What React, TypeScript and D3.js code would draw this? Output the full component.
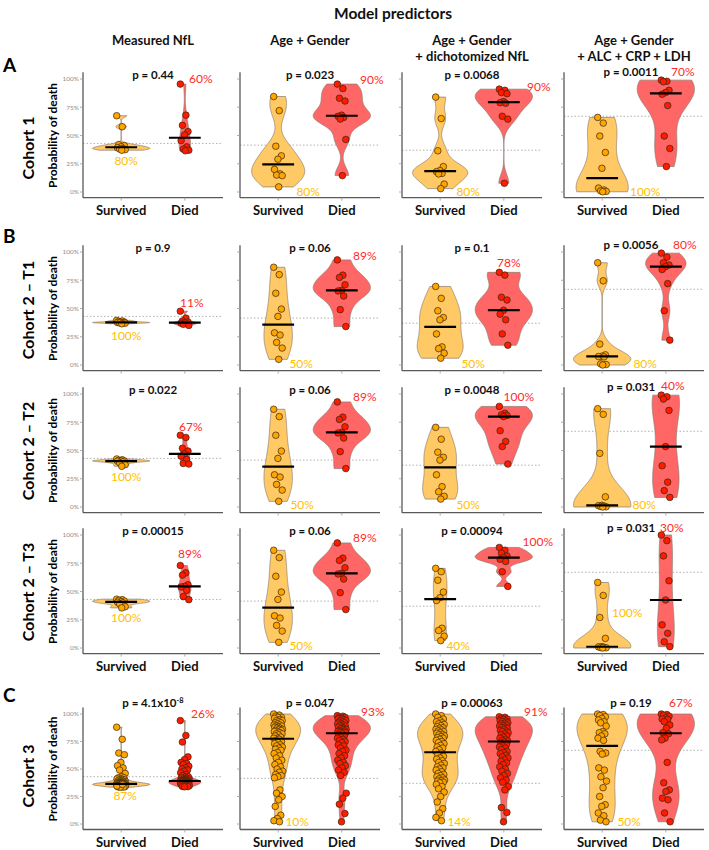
import React from "react";
import * as d3 from "d3";

// ---------- categories / labels ----------
const groups = ["Survived", "Died"];
const rowLabels = ["Cohort 1", "Cohort 2 – T1", "Cohort 2 – T2", "Cohort 2 – T3", "Cohort 3"];
const sectionLetters = ["A", "B", "", "", "C"];
const columnHeaders = [
  ["Measured NfL"],
  ["Age + Gender"],
  ["Age + Gender", "+ dichotomized NfL"],
  ["Age + Gender", "+ ALC + CRP + LDH"],
];
const yTickValues = [0, 0.25, 0.5, 0.75, 1];
const thresholds = [0.43, 0.415, 0.37, 0.67];
const pValues = [
  ["0.44", "0.023", "0.0068", "0.0011"],
  ["0.9", "0.06", "0.1", "0.0056"],
  ["0.022", "0.06", "0.0048", "0.031"],
  ["0.00015", "0.06", "0.00094", "0.031"],
  ["4.1x10^-8", "0.047", "0.00063", "0.19"],
];
const survivedPct = [
  [80, 80, 80, 100],
  [100, 50, 50, 80],
  [100, 50, 50, 80],
  [100, 50, 40, 100],
  [87, 10, 14, 50],
];
const diedPct = [
  [60, 90, 90, 70],
  [11, 89, 78, 80],
  [67, 89, 100, 40],
  [89, 89, 100, 30],
  [26, 93, 91, 67],
];

// ---------- predicted probabilities ----------
// Cohort 1
const r1c1S = [0.675, 0.578, 0.42, 0.41, 0.4, 0.392, 0.385, 0.38, 0.375, 0.37];
const r1c1D = [0.955, 0.68, 0.59, 0.535, 0.505, 0.455, 0.4, 0.38, 0.37, 0.365];
const r1c2S = [0.845, 0.72, 0.405, 0.32, 0.29, 0.2, 0.16, 0.15, 0.145, 0.045];
const r1c2D = [0.955, 0.915, 0.83, 0.805, 0.68, 0.67, 0.66, 0.645, 0.465, 0.145];
const r1c3S = [0.84, 0.65, 0.365, 0.225, 0.19, 0.18, 0.165, 0.16, 0.07, 0.03];
const r1c3D = [0.91, 0.9, 0.88, 0.87, 0.8, 0.79, 0.785, 0.67, 0.645, 0.077];
const r1c4S = [0.66, 0.61, 0.495, 0.35, 0.21, 0.035, 0.018, 0.01, 0.005, 0.002];
const r1c4D = [0.99, 0.98, 0.975, 0.9, 0.88, 0.865, 0.765, 0.495, 0.385, 0.225];
// Cohort 2 – T1
const r2c1S = [0.395, 0.39, 0.385, 0.38, 0.378, 0.376, 0.375, 0.373, 0.37, 0.365];
const r2c1D = [0.476, 0.415, 0.39, 0.38, 0.375, 0.37, 0.365, 0.36, 0.35];
const c2AgeGenderS = [0.865, 0.8, 0.635, 0.495, 0.43, 0.285, 0.265, 0.2, 0.15, 0.05];
const c2AgeGenderD = [0.93, 0.795, 0.775, 0.71, 0.66, 0.655, 0.61, 0.49, 0.34];
const r2c3S = [0.695, 0.59, 0.48, 0.42, 0.4, 0.275, 0.16, 0.145, 0.105, 0.06];
const r2c3D = [0.82, 0.795, 0.6, 0.575, 0.485, 0.45, 0.4, 0.275, 0.175];
const r2c4S = [0.905, 0.745, 0.185, 0.09, 0.078, 0.075, 0.072, 0.01, 0.004, 0.0];
const r2c4D = [0.99, 0.955, 0.905, 0.885, 0.87, 0.845, 0.72, 0.48, 0.22];
// Cohort 2 – T2
const r3c1S = [0.425, 0.418, 0.412, 0.408, 0.407, 0.405, 0.4, 0.39, 0.375, 0.36];
const r3c1D = [0.635, 0.615, 0.52, 0.495, 0.47, 0.45, 0.42, 0.385, 0.38];
const r3c3S = [0.705, 0.6, 0.485, 0.44, 0.415, 0.285, 0.18, 0.135, 0.095, 0.07];
const r3c3D = [0.89, 0.83, 0.815, 0.81, 0.8, 0.675, 0.58, 0.535, 0.38];
const r3c4S = [0.87, 0.82, 0.475, 0.09, 0.015, 0.012, 0.008, 0.005, 0.002, 0.0];
const r3c4D = [0.99, 0.975, 0.955, 0.855, 0.535, 0.365, 0.22, 0.145, 0.085];
// Cohort 2 – T3
const r4c1S = [0.432, 0.428, 0.422, 0.415, 0.41, 0.405, 0.4, 0.39, 0.365, 0.355];
const r4c1D = [0.73, 0.665, 0.645, 0.56, 0.545, 0.54, 0.51, 0.455, 0.428];
const r4c3S = [0.705, 0.675, 0.6, 0.495, 0.445, 0.42, 0.175, 0.155, 0.105, 0.065];
const r4c3D = [0.89, 0.865, 0.84, 0.815, 0.8, 0.785, 0.765, 0.675, 0.545];
const r4c4S = [0.58, 0.465, 0.27, 0.085, 0.012, 0.01, 0.006, 0.004, 0.002, 0.0];
const r4c4D = [1.0, 0.95, 0.815, 0.595, 0.425, 0.205, 0.13, 0.055, 0.012];
// Cohort 3
const r5c1S = [
  0.88, 0.77, 0.645, 0.63, 0.56, 0.53, 0.51, 0.49, 0.46,
  0.43, 0.42, 0.42, 0.41, 0.41, 0.405, 0.4, 0.4, 0.395, 0.39,
  0.39, 0.385, 0.385, 0.38, 0.38, 0.38, 0.375, 0.375, 0.375, 0.372,
  0.37, 0.37, 0.37, 0.368, 0.368, 0.366, 0.365, 0.365, 0.365, 0.364,
  0.363, 0.362, 0.362, 0.361, 0.36, 0.36, 0.36, 0.359, 0.358, 0.357,
  0.356, 0.355, 0.355, 0.354, 0.353, 0.352, 0.35, 0.35, 0.348, 0.347,
  0.346, 0.345, 0.344, 0.342, 0.34, 0.338, 0.337, 0.336, 0.335, 0.345, 0.36,
];
const r5c1D = [
  0.94, 0.805, 0.745, 0.61, 0.585, 0.56, 0.55, 0.54, 0.525, 0.51, 0.5, 0.49, 0.48, 0.465, 0.45, 0.44,
  0.43, 0.425, 0.42, 0.415, 0.41, 0.41, 0.405, 0.4, 0.4, 0.398,
  0.396, 0.395, 0.393, 0.392, 0.39, 0.39, 0.388, 0.386, 0.385, 0.384,
  0.382, 0.38, 0.38, 0.378, 0.377, 0.375, 0.374, 0.372, 0.37, 0.37,
  0.368, 0.366, 0.365, 0.363, 0.36, 0.358, 0.355, 0.352, 0.35, 0.348,
  0.345, 0.342, 0.34, 0.338,
];
const r5c2S = [
  1.0, 0.99, 0.98, 0.97, 0.97, 0.96, 0.95, 0.94, 0.94, 0.93, 0.92, 0.92, 0.91, 0.9, 0.9, 0.89, 0.89,
  0.88, 0.88, 0.87, 0.87, 0.86, 0.86, 0.85, 0.85, 0.84, 0.84, 0.83, 0.82, 0.82, 0.81, 0.8, 0.79, 0.78, 0.78,
  0.77, 0.76, 0.75, 0.74, 0.73, 0.72, 0.71, 0.7, 0.69, 0.68, 0.67, 0.65, 0.64, 0.62, 0.6,
  0.58, 0.56, 0.54, 0.52, 0.5, 0.48, 0.47, 0.45, 0.44, 0.43, 0.42, 0.31, 0.28,
  0.25, 0.22, 0.16, 0.08, 0.05, 0.03, 0.02,
];
const r5c2D = [
  0.985, 0.98, 0.97, 0.97, 0.96, 0.955, 0.95, 0.94, 0.94, 0.93, 0.925, 0.92, 0.91, 0.91, 0.9,
  0.895, 0.89, 0.88, 0.88, 0.87, 0.865, 0.86, 0.855, 0.85, 0.845, 0.84, 0.84, 0.835, 0.83, 0.83,
  0.82, 0.81, 0.8, 0.79, 0.78, 0.77, 0.76, 0.75, 0.74, 0.72, 0.71, 0.69, 0.67, 0.66, 0.64,
  0.62, 0.6, 0.58, 0.56, 0.55, 0.53, 0.51, 0.49, 0.47, 0.44, 0.28, 0.235, 0.18, 0.095, 0.02,
];
const r5c3S = [
  1.0, 0.985, 0.97, 0.955, 0.94, 0.93, 0.92, 0.91, 0.905, 0.895, 0.885, 0.875, 0.87, 0.86, 0.855,
  0.845, 0.84, 0.83, 0.825, 0.815, 0.81, 0.8, 0.795, 0.785, 0.78, 0.77, 0.76, 0.75, 0.74, 0.73,
  0.715, 0.7, 0.69, 0.675, 0.66,
  0.645, 0.63, 0.615, 0.6, 0.59, 0.575, 0.56, 0.55, 0.535, 0.52, 0.51, 0.5, 0.49, 0.475, 0.46,
  0.45, 0.44, 0.43, 0.42, 0.41, 0.4, 0.395, 0.39, 0.38, 0.375,
  0.36, 0.34, 0.32, 0.29, 0.25, 0.2, 0.14, 0.1, 0.06, 0.03,
];
const r5c3D = [
  0.975, 0.97, 0.96, 0.955, 0.95, 0.94, 0.935, 0.93, 0.92, 0.915, 0.91, 0.9, 0.895, 0.89, 0.88,
  0.875, 0.87, 0.86, 0.85, 0.845, 0.84, 0.83, 0.82, 0.81, 0.8, 0.79, 0.78, 0.77, 0.76, 0.755,
  0.745, 0.735, 0.72, 0.71, 0.7, 0.69, 0.675, 0.66, 0.65, 0.64, 0.625, 0.61, 0.6, 0.585, 0.57,
  0.555, 0.54, 0.52, 0.5, 0.48, 0.46, 0.44, 0.42, 0.4, 0.38,
  0.34, 0.31, 0.15, 0.105, 0.02,
];
const r5c4S = [
  1.0, 0.995, 0.985, 0.975, 0.96, 0.945, 0.93, 0.92, 0.89, 0.84, 0.83, 0.82, 0.8, 0.78, 0.76,
  0.66, 0.645, 0.635, 0.51, 0.49, 0.43, 0.39, 0.33, 0.25, 0.175, 0.16, 0.1, 0.075, 0.035, 0.02,
];
const r5c4D = [
  1.0, 0.995, 0.99, 0.98, 0.965, 0.955, 0.95, 0.93, 0.9, 0.87, 0.83, 0.82, 0.78, 0.765,
  0.56, 0.375, 0.31, 0.295, 0.235, 0.22, 0.1, 0.02,
];

const panelData: number[][][][] = [
  [[r1c1S, r1c1D], [r1c2S, r1c2D], [r1c3S, r1c3D], [r1c4S, r1c4D]],
  [[r2c1S, r2c1D], [c2AgeGenderS, c2AgeGenderD], [r2c3S, r2c3D], [r2c4S, r2c4D]],
  [[r3c1S, r3c1D], [c2AgeGenderS, c2AgeGenderD], [r3c3S, r3c3D], [r3c4S, r3c4D]],
  [[r4c1S, r4c1D], [c2AgeGenderS, c2AgeGenderD], [r4c3S, r4c3D], [r4c4S, r4c4D]],
  [[r5c1S, r5c1D], [r5c2S, r5c2D], [r5c3S, r5c3D], [r5c4S, r5c4D]],
];

// ---------- layout ----------
const ROW_Y100 = [79, 252, 394, 535, 714];
const ROW_Y0 = [192, 365, 507, 648, 824];
const ROW_SHOWS_X_LABELS = [true, false, false, true, true];
const ROW_LABEL_Y = [148, 310, 451, 592, 776];
const LETTER_Y = [72, 243, 0, 0, 702];
const COL_X = [83, 240, 402, 564];
const PANEL_W = 140;
// annotation placement: [dx from group centre (px), y in probability units]
const survLabelPos = [
  [[5, 0.24], [30, -0.035], [28, -0.035], [43, -0.035]],
  [[5, 0.22], [23, -0.027], [33, -0.027], [43, -0.027]],
  [[5, 0.23], [24, -0.02], [28, -0.02], [42, -0.02]],
  [[5, 0.23], [23, -0.02], [18, -0.02], [25, 0.274]],
  [[4, 0.22], [19, -0.02], [19, -0.02], [27, -0.02]],
];
const diedLabelPos = [
  [[16, 0.965], [30, 0.955], [35, 0.894], [17, 1.025]],
  [[7, 0.51], [23, 0.93], [5, 0.867], [19, 1.03]],
  [[6, 0.67], [23, 0.938], [15, 0.938], [7, 1.035]],
  [[5, 0.796], [23, 0.94], [34, 0.903], [6, 1.027]],
  [[18, 0.96], [31, 0.98], [32, 0.98], [15, 1.06]],
];

const FONT = "Lato, 'Open Sans', 'DejaVu Sans', sans-serif";
const VIOLIN_FILL = ["#FFC966", "#FF6666"];
const POINT_FILL = ["#FFA500", "#FF1A00"];
const PCT_COLOR = ["#FFC000", "#FF2B2B"];

function nrd0(vals: number[]): number {
  const s = [...vals].sort((a, b) => a - b);
  const sd = d3.deviation(s) ?? 0;
  const iqr = (d3.quantileSorted(s, 0.75) as number) - (d3.quantileSorted(s, 0.25) as number);
  let lo = Math.min(sd, iqr / 1.34);
  if (!(lo > 0)) lo = sd || Math.abs(s[0]) || 1;
  return 0.9 * lo * Math.pow(s.length, -0.2);
}

function densityCurve(vals: number[], nGrid = 160): [number, number][] {
  const bw = nrd0(vals);
  const lo = d3.min(vals) as number;
  const hi = d3.max(vals) as number;
  const norm = vals.length * bw * Math.sqrt(2 * Math.PI);
  return d3.range(nGrid).map((i) => {
    const t = lo + ((hi - lo) * i) / (nGrid - 1);
    let sum = 0;
    for (const v of vals) {
      const z = (t - v) / bw;
      sum += Math.exp(-0.5 * z * z);
    }
    return [t, sum / norm] as [number, number];
  });
}

const jitter = (i: number) => (((i * 0.6180339887) % 1) - 0.5) * 9;

function Panel({ row, col }: { row: number; col: number }) {
  const x0 = COL_X[col];
  const y = d3.scaleLinear().domain([0, 1]).range([ROW_Y0[row], ROW_Y100[row]]);
  const x = d3.scalePoint<string>().domain(groups).range([x0, x0 + PANEL_W]).padding(0.6);
  const step = x.step();
  const halfMax = (step * 0.9) / 2;
  const vals = panelData[row][col];
  const curves = vals.map((v) => densityCurve(v));
  const maxD = d3.max(curves.flatMap((c) => c.map((p) => p[1]))) as number;
  const yTop = y(1.06);
  const yBot = y(-0.05);
  const pOffset = row === 4 ? -7 : col === 3 ? -3 : 0;
  const pX = x0 + PANEL_W / 2 + (col === 3 ? -3 : 0);
  const pText = pValues[row][col].split("^");

  return (
    <g>
      {/* threshold */}
      <line x1={x0} x2={x0 + PANEL_W} y1={y(thresholds[col])} y2={y(thresholds[col])}
        stroke="#a8a8a8" strokeWidth={0.9} strokeDasharray="1.5,2" />
      {/* axes */}
      <line x1={x0} x2={x0} y1={yTop} y2={yBot} stroke="#595959" strokeWidth={1.3} />
      <line x1={x0} x2={x0 + PANEL_W} y1={yBot} y2={yBot} stroke="#595959" strokeWidth={1.3} />
      {yTickValues.map((t) => (
        <g key={t}>
          <line x1={x0 - 3} x2={x0} y1={y(t)} y2={y(t)} stroke="#9a9a9a" strokeWidth={0.8} />
          {col === 0 && (
            <text x={x0 - 4} y={y(t)} dy="0.35em" textAnchor="end" fontSize={6.5} fill="#8f8f8f" fontFamily={FONT}>
              {`${Math.round(t * 100)}%`}
            </text>
          )}
        </g>
      ))}
      {groups.map((g) => (
        <g key={g}>
          <line x1={x(g)} x2={x(g)} y1={yBot} y2={yBot + 3} stroke="#9a9a9a" strokeWidth={0.8} />
          {ROW_SHOWS_X_LABELS[row] && (
            <text x={x(g)} y={ROW_Y0[row] + 23} textAnchor="middle" fontSize={13} fontWeight={700} fontFamily={FONT} fill="#111">
              {g}
            </text>
          )}
        </g>
      ))}
      {/* violins */}
      {groups.map((g, gi) => {
        const cx = x(g) as number;
        const area = d3
          .area<[number, number]>()
          .y((p) => y(p[0]))
          .x0((p) => cx - (p[1] / maxD) * halfMax)
          .x1((p) => cx + (p[1] / maxD) * halfMax);
        return (
          <path key={g} d={area(curves[gi]) || ""} fill={VIOLIN_FILL[gi]} stroke="#8a7a6e" strokeWidth={0.7} />
        );
      })}
      {/* points */}
      {groups.map((g, gi) => {
        const cx = x(g) as number;
        return (
          <g key={g}>
            {vals[gi].map((v, i) => (
              <circle key={i} cx={cx + jitter(i)} cy={y(v)} r={3.3} fill={POINT_FILL[gi]} stroke="#3a2510" strokeWidth={0.7} />
            ))}
          </g>
        );
      })}
      {/* medians */}
      {groups.map((g, gi) => {
        const cx = x(g) as number;
        const m = d3.median(vals[gi]) as number;
        return <line key={g} x1={cx - step * 0.25} x2={cx + step * 0.25} y1={y(m)} y2={y(m)} stroke="#000" strokeWidth={2.2} />;
      })}
      {/* p-value */}
      <text x={pX} y={y(1) + pOffset} textAnchor="middle" fontSize={11.5} fontWeight={700} fontFamily={FONT} fill="#111">
        {`p = ${pText[0]}`}
        {pText[1] && <tspan dy={-4.5} fontSize={7.5}>{pText[1]}</tspan>}
      </text>
      {/* percentages */}
      <text x={(x("Survived") as number) + survLabelPos[row][col][0]} y={y(survLabelPos[row][col][1])}
        textAnchor="middle" fontSize={12} fontFamily={FONT} fill={PCT_COLOR[0]}>
        {`${survivedPct[row][col]}%`}
      </text>
      <text x={(x("Died") as number) + diedLabelPos[row][col][0]} y={y(diedLabelPos[row][col][1])}
        textAnchor="middle" fontSize={12} fontFamily={FONT} fill={PCT_COLOR[1]}>
        {`${diedPct[row][col]}%`}
      </text>
    </g>
  );
}

export default function App() {
  return (
    <svg width={709} height={850} style={{ position: "absolute", left: 0, top: 0, background: "#fff" }} fontFamily={FONT}>
      <rect width={709} height={850} fill="#fff" />
      <text x={393} y={19} textAnchor="middle" fontSize={15.5} fontWeight={700} fill="#111">Model predictors</text>
      {columnHeaders.map((lines, c) =>
        lines.map((ln, li) => (
          <text key={`${c}-${li}`} x={COL_X[c] + PANEL_W / 2} y={45 + li * 15.5} textAnchor="middle" fontSize={13} fontWeight={700} fill="#111">
            {ln}
          </text>
        ))
      )}
      {rowLabels.map((lab, r) => (
        <g key={lab}>
          {sectionLetters[r] && (
            <text x={3} y={LETTER_Y[r]} fontSize={19} fontWeight={700} fill="#000">{sectionLetters[r]}</text>
          )}
          <text transform={`translate(34,${ROW_LABEL_Y[r]}) rotate(-90)`} textAnchor="middle" fontSize={16} fontWeight={700} fill="#000">
            {lab}
          </text>
          <text transform={`translate(57,${(ROW_Y0[r] + ROW_Y100[r]) / 2}) rotate(-90)`} textAnchor="middle" fontSize={12} fontWeight={700} fill="#000">
            Probability of death
          </text>
        </g>
      ))}
      {panelData.map((rowArr, r) => rowArr.map((_, c) => <Panel key={`${r}-${c}`} row={r} col={c} />))}
    </svg>
  );
}
